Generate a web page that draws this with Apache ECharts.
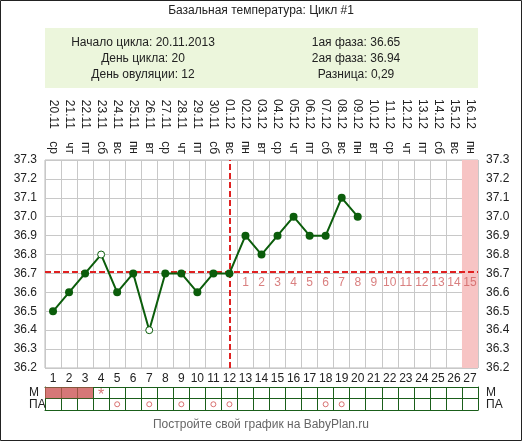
<!DOCTYPE html>
<html><head><meta charset="utf-8">
<script src="https://cdn.jsdelivr.net/npm/echarts@6/dist/echarts.min.js"></script>
<style>html,body{margin:0;padding:0;background:#fff}#c{width:522px;height:441px}</style>
</head><body><div id="c"></div>
<script>
const days = ['1','2','3','4','5','6','7','8','9','10','11','12','13','14','15','16','17','18','19','20','21','22','23','24','25','26','27'];
const weekdays = ['ср','чт','пт','сб','вс','пн','вт','ср','чт','пт','сб','вс','пн','вт','ср','чт','пт','сб','вс','пн','вт','ср','чт','пт','сб','вс','пн'];
const dates = ['20.11','21.11','22.11','23.11','24.11','25.11','26.11','27.11','28.11','29.11','30.11','01.12','02.12','03.12','04.12','05.12','06.12','07.12','08.12','09.12','10.12','11.12','12.12','13.12','14.12','15.12','16.12'];
const temps = [36.5,36.6,36.7,36.8,36.6,36.7,36.4,36.7,36.7,36.6,36.7,36.7,36.9,36.8,36.9,37.0,36.9,36.9,37.1,37.0];
const hollowDays = [4,7];
const coverline = 36.71;
const ovulationDay = 12;
const highlightDays = [27];
const phaseNums = ['1','2','3','4','5','6','7','8','9','10','11','12','13','14','15'];
const mDays = [1,2,3];
const mStarDays = [4];
const paDays = [5,7,9,11,12,18,19];
const F = 'Liberation Sans';

const lineData = temps.map((v,i)=>{
  const h = hollowDays.includes(i+1);
  return {value:[i,v], itemStyle: h?{color:'#fff',borderColor:'#0b5d0b',borderWidth:1}:{color:'#0b5d0b'}, symbolSize: h?7:8};
});
const phaseData = phaseNums.map((t,i)=>({value:[ovulationDay+i, 36.65], label:{formatter:t}}));
const hlData = days.map((d,i)=>highlightDays.includes(i+1)?37.3:null);

const chart = echarts.init(document.getElementById('c'));
chart.setOption({
  animation:false,
  textStyle:{fontFamily:F},
  graphic:[
    {type:'rect',shape:{x:0.5,y:0.5,width:521,height:440},style:{fill:'none',stroke:'#222',lineWidth:1},z:-1},
    {type:'text',x:261,y:5,style:{text:'Базальная температура: Цикл #1',font:'12px '+F,fill:'#222',textAlign:'center'}},
    {type:'rect',shape:{x:45,y:28,width:433,height:60},style:{fill:'#ecf6dc'},z:-1},
    {type:'text',x:143,y:35,style:{text:'Начало цикла: 20.11.2013\nДень цикла: 20\nДень овуляции: 12',font:'12px '+F,fill:'#222',textAlign:'center',lineHeight:16}},
    {type:'text',x:356,y:35,style:{text:'1ая фаза: 36.65\n2ая фаза: 36.94\nРазница: 0,29',font:'12px '+F,fill:'#222',textAlign:'center',lineHeight:16}},
    {type:'text',x:261,y:419,style:{text:'Постройте свой график на BabyPlan.ru',font:'12px '+F,fill:'#666',textAlign:'center'}}
  ],
  grid:[
    {left:45,right:44,top:160,bottom:73,show:true,borderColor:'#bbb',borderWidth:1},
    {left:45,right:44,top:387,height:23,show:false}
  ],
  xAxis:[
    {type:'category',data:days,gridIndex:0,position:'bottom',axisLine:{show:false},axisTick:{show:false},
     axisLabel:{color:'#222',fontSize:12,margin:5,interval:0},splitLine:{show:true,interval:0,lineStyle:{color:'#c8c8c8'}}},
    {type:'category',data:weekdays,gridIndex:0,position:'top',axisLine:{show:false},axisTick:{show:false},
     axisLabel:{color:'#222',fontSize:12,rotate:90,margin:6,interval:0}},
    {type:'category',data:dates,gridIndex:0,position:'top',axisLine:{show:false},axisTick:{show:false},
     axisLabel:{color:'#222',fontSize:12,rotate:90,margin:31,interval:0}},
    {type:'category',data:days,gridIndex:1,axisLine:{show:true,lineStyle:{color:'#1a5e1a'}},axisTick:{show:false},axisLabel:{show:false},
     splitLine:{show:true,interval:0,lineStyle:{color:'#1a5e1a'}}},
    {type:'category',data:days,gridIndex:1,position:'top',axisLine:{show:true,lineStyle:{color:'#1a5e1a'}},axisTick:{show:false},axisLabel:{show:false}}
  ],
  yAxis:[
    {type:'value',gridIndex:0,min:36.2,max:37.3,interval:0.1,position:'left',axisLine:{show:false},axisTick:{show:false},
     axisLabel:{color:'#222',fontSize:12,margin:8,formatter:v=>v.toFixed(1)},splitLine:{show:true,lineStyle:{color:'#c8c8c8'}}},
    {type:'value',gridIndex:0,min:36.2,max:37.3,interval:0.1,position:'right',axisLine:{show:false},axisTick:{show:false},
     axisLabel:{color:'#222',fontSize:12,margin:8,formatter:v=>v.toFixed(1)},splitLine:{show:false}},
    {type:'category',gridIndex:1,data:['ПА','М'],position:'left',axisLine:{show:true,lineStyle:{color:'#1a5e1a'}},axisTick:{show:false},
     axisLabel:{color:'#222',fontSize:12,margin:16,interval:0,align:'left',width:20,padding:[0,0,0,0]},splitLine:{show:true,interval:0,lineStyle:{color:'#1a5e1a'}}},
    {type:'category',gridIndex:1,data:['ПА','М'],position:'right',axisLine:{show:true,lineStyle:{color:'#1a5e1a'}},axisTick:{show:false},
     axisLabel:{color:'#222',fontSize:12,margin:8,interval:0}}
  ],
  series:[
    {type:'bar',xAxisIndex:0,yAxisIndex:0,data:hlData,barWidth:'100%',itemStyle:{color:'#f7c4c4'},z:1,silent:true},
    {type:'line',xAxisIndex:0,yAxisIndex:0,data:lineData,symbol:'circle',lineStyle:{color:'#0b5d0b',width:2},z:5,
     markLine:{silent:true,symbol:'none',label:{show:false},data:[
       {yAxis:coverline,lineStyle:{color:'#e02020',type:[6,3],width:2}},
       {xAxis:String(ovulationDay),lineStyle:{color:'#e02020',type:[6,3],width:2}}
     ]}},
    {type:'scatter',xAxisIndex:0,yAxisIndex:0,data:phaseData,symbolSize:0,
     label:{show:true,position:'inside',color:'#d06060',fontSize:12}},
    {type:'scatter',xAxisIndex:3,yAxisIndex:2,symbol:'rect',symbolSize:[16,11],itemStyle:{color:'#cc5555'},
     data:mDays.map(d=>[d-1,'М'])},
    {type:'scatter',xAxisIndex:3,yAxisIndex:2,symbolSize:0,label:{show:true,position:'inside',formatter:'*',color:'#cc5555',fontSize:16,offset:[0,3]},
     data:mStarDays.map(d=>[d-1,'М'])},
    {type:'scatter',xAxisIndex:3,yAxisIndex:2,symbol:'circle',symbolSize:5,itemStyle:{color:'#fff',borderColor:'#d05050',borderWidth:1},
     data:paDays.map(d=>[d-1,'ПА'])}
  ]
});
</script></body></html>
